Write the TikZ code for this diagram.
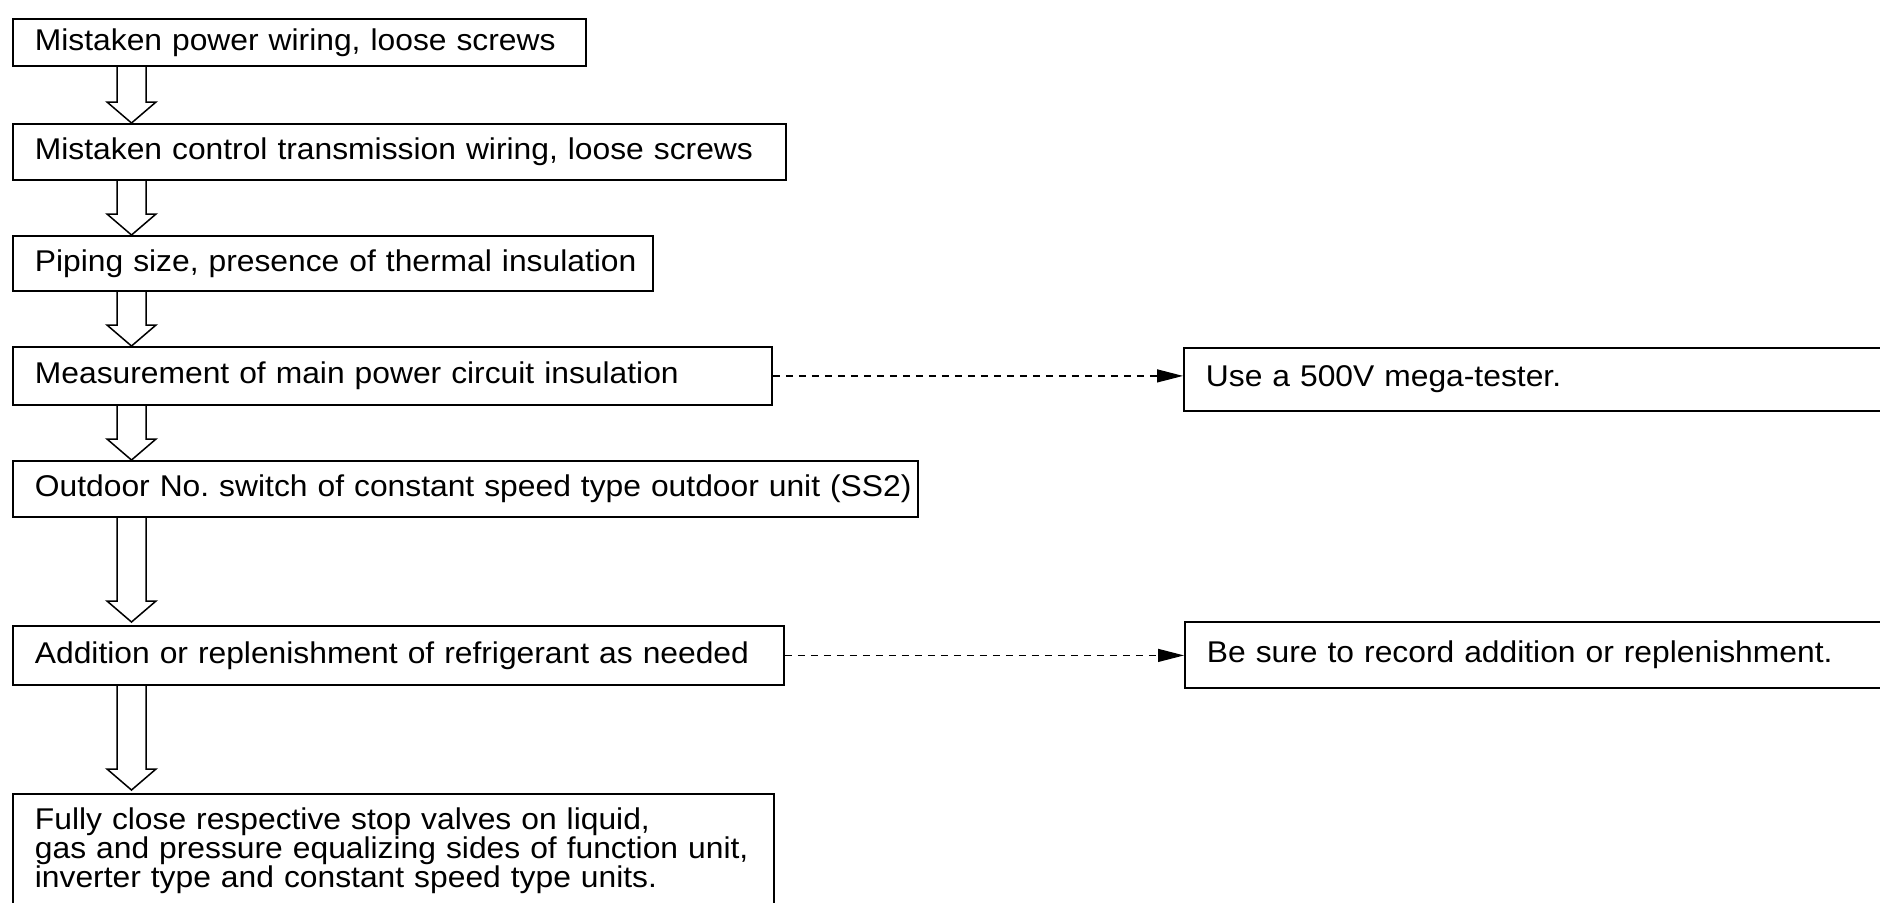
\documentclass[tikz,border=0pt]{standalone}
\usepackage{fontspec}
\setmainfont[FakeStretch=1.06]{Liberation Sans}
\usetikzlibrary{calc,arrows.meta}
\newcommand{\boxfont}{\fontsize{15pt}{14.4pt}\selectfont}
% hollow block arrow from box #1 to box #2, tip #3 px above the top of #2
\newcommand{\hollowarrow}[3]{%
  \draw[hol] ($(#1.south west)+(105,0)$) -- ($(#2.north west)+(105,-21-#3)$)
    -- ($(#2.north west)+(95,-21-#3)$) -- ($(#2.north west)+(119.5,-#3)$)
    -- ($(#2.north west)+(144,-21-#3)$) -- ($(#2.north west)+(134,-21-#3)$)
    -- ($(#1.south west)+(134,0)$);}
\begin{document}
\begin{tikzpicture}[x=0.5pt,y=-0.5pt,
  box/.style={draw, line width=0.9pt, rectangle, anchor=north west,
    inner xsep=11pt, inner ysep=0pt, align=left, font=\boxfont},
  hol/.style={line width=0.75pt, line join=miter},
  note/.style={line width=0.6pt, dash pattern=on 3.5pt off 3pt,
    -{Triangle[length=13pt,width=6.5pt]}}]
\useasboundingbox (0,0) rectangle (1880,902);
\clip (0,0) rectangle (1880,902);
\fill[white] (0,0) rectangle (1880,902);

\node[box, text width=264.5pt, minimum height=23.5pt] (b1) at (12,18) {\mbox{Mistaken power wiring, loose screws}};
\node[box, text width=364.5pt, minimum height=28pt] (b2) at (12,123) {\mbox{Mistaken control transmission wiring, loose screws}};
\node[box, text width=298pt, minimum height=27.5pt] (b3) at (12,235) {\mbox{Piping size, presence of thermal insulation}};
\node[box, text width=357.5pt, minimum height=29pt] (b4) at (12,346) {\mbox{Measurement of main power circuit insulation}};
\node[box, text width=430.5pt, minimum height=28pt] (b5) at (12,460) {\mbox{Outdoor No.\ switch of constant speed type outdoor unit (SS2)}};
\node[box, text width=363.5pt, minimum height=29.5pt] (b6) at (12,625) {\mbox{Addition or replenishment of refrigerant as needed}};
\node[box, text width=358.5pt, inner ysep=7pt] (b7) at (12,793) {\mbox{Fully close respective stop valves on liquid,}\\\mbox{gas and pressure equalizing sides of function unit,}\\\mbox{inverter type and constant speed type units.}};

\node[box, text width=334pt, minimum height=31.5pt] (r1) at (1183,347) {\mbox{Use a 500V mega-tester.}};
\node[box, text width=333.5pt, minimum height=33pt] (r2) at (1184,621) {\mbox{Be sure to record addition or replenishment.}};

\hollowarrow{b1}{b2}{0}
\hollowarrow{b2}{b3}{0}
\hollowarrow{b3}{b4}{0}
\hollowarrow{b4}{b5}{0}
\hollowarrow{b5}{b6}{3}
\hollowarrow{b6}{b7}{3}

\draw[note] (b4.east) -- (b4.east -| r1.west);
\draw[note] (b6.east) -- (b6.east -| r2.west);
\end{tikzpicture}
\end{document}
